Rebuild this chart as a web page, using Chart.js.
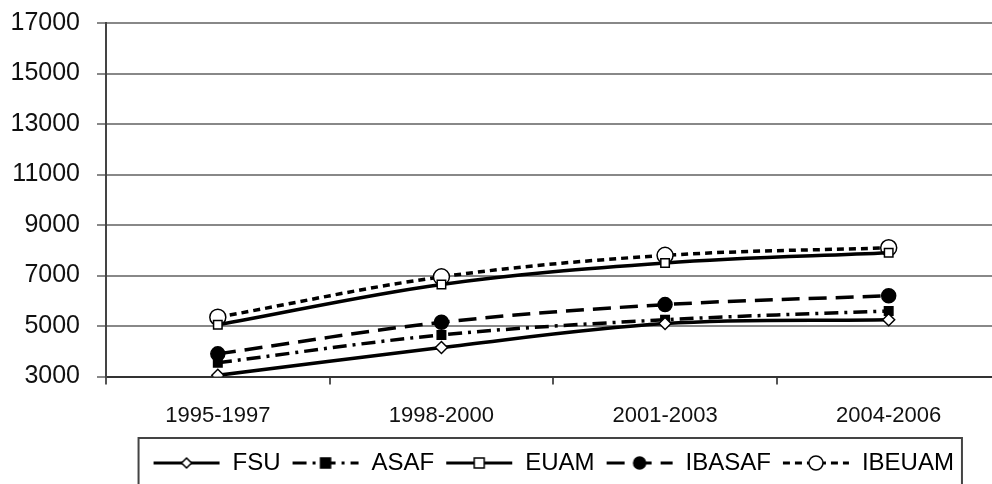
<!DOCTYPE html>
<html>
<head>
<meta charset="utf-8">
<script src="https://cdn.jsdelivr.net/npm/chart.js@4.4.1/dist/chart.umd.min.js"></script>
<style>
    html, body { margin: 0; padding: 0; background: #fff; overflow: hidden; width: 992px; height: 484px; }
    #wrap { position: relative; top: -9px; width: 1010px; height: 494px; }
</style>
</head>
<body>
<div id="wrap"><canvas id="chart"></canvas></div>
<script>
(function () {

    const periods = ["1995-1997", "1998-2000", "2001-2003", "2004-2006"];
    const fsu = [3050, 4150, 5100, 5250];
    const asaf = [3550, 4650, 5250, 5600];
    const euam = [5050, 6650, 7500, 7900];
    const ibasaf = [3900, 5150, 5850, 6200];
    const ibeuam = [5350, 6950, 7800, 8100];
    const yTicks = [3000, 5000, 7000, 9000, 11000, 13000, 15000, 17000];

    const fontFamily = "'Liberation Sans', Arial, sans-serif";

    // line samples for the legend (line + marker, like the excel legend)
    function makeSample(dash, style, fill, radius) {
        const c = document.createElement("canvas");
        c.width = 68;
        c.height = 20;
        const ctx = c.getContext("2d");
        const cx = 34;
        ctx.strokeStyle = "#000";
        ctx.lineWidth = 3;
        ctx.setLineDash(dash);
        ctx.beginPath();
        ctx.moveTo(1, 10);
        ctx.lineTo(67, 10);
        ctx.stroke();
        ctx.setLineDash([]);
        ctx.fillStyle = fill;
        ctx.beginPath();
        if (style === "circle") {
            ctx.arc(cx, 10, radius, 0, Math.PI * 2);
        } else if (style === "rect") {
            ctx.rect(cx - radius, 10 - radius, radius * 2, radius * 2);
        } else {
            ctx.moveTo(cx, 10 - radius);
            ctx.lineTo(cx + radius, 10);
            ctx.lineTo(cx, 10 + radius);
            ctx.lineTo(cx - radius, 10);
            ctx.closePath();
        }
        ctx.fill();
        ctx.lineWidth = 1.5;
        ctx.stroke();
        return c;
    }

    function makeDataset(label, values, dash, style, fill, radius) {
        return {
            label: label,
            data: values,
            borderColor: "#000",
            borderWidth: 3.5,
            borderDash: dash,
            tension: 0.35,
            fill: false,
            pointStyle: style,
            pointRadius: radius,
            pointHoverRadius: radius,
            pointBackgroundColor: fill,
            pointBorderColor: "#000",
            pointBorderWidth: 1.5,
            sample: makeSample(dash, style, fill, radius - 1)
        };
    }

    const datasets = [
        makeDataset("FSU", fsu, [], "rectRot", "#fff", 6),
        makeDataset("ASAF", asaf, [14, 6, 3, 6], "rect", "#000", 6),
        makeDataset("EUAM", euam, [], "rect", "#fff", 6),
        makeDataset("IBASAF", ibasaf, [18, 9], "circle", "#000", 7),
        makeDataset("IBEUAM", ibeuam, [7, 5], "circle", "#fff", 8)
    ];

    const legendBorder = {
        id: "legendBorder",
        afterDraw(chart) {
            const boxes = chart.legend.legendHitBoxes;
            if (!boxes || !boxes.length) return;
            const left = Math.min(...boxes.map(b => b.left)) - 14;
            const right = Math.max(...boxes.map(b => b.left + b.width)) + 8;
            const top = boxes[0].top - 13;
            const ctx = chart.ctx;
            ctx.save();
            ctx.strokeStyle = "#444";
            ctx.lineWidth = 2;
            ctx.strokeRect(left, top, right - left, 200);
            ctx.restore();
        }
    };

    new Chart(document.getElementById("chart"), {
        type: "line",
        data: {
            labels: periods,
            datasets: datasets
        },
        options: {
            responsive: true,
            maintainAspectRatio: false,
            animation: false,
            layout: { padding: { top: 3, right: 0, left: 0, bottom: 0 } },
            scales: {
                x: {
                    offset: true,
                    afterFit: axis => {
                        axis.height -= 7;
                    },
                    grid: {
                        offset: true,
                        drawOnChartArea: false,
                        tickLength: 8,
                        color: "#555",
                        lineWidth: 2
                    },
                    border: { color: "#333", width: 2 },
                    ticks: {
                        color: "#111",
                        padding: 18,
                        maxRotation: 0,
                        font: { family: fontFamily, size: 22 }
                    }
                },
                y: {
                    min: 3000,
                    max: 17000,
                    afterBuildTicks: axis => {
                        axis.ticks = yTicks.map(v => ({ value: v }));
                    },
                    afterFit: axis => {
                        axis.width = 106;
                    },
                    grid: {
                        color: "#888",
                        lineWidth: 2,
                        tickLength: 9
                    },
                    border: { color: "#444", width: 2 },
                    ticks: {
                        color: "#111",
                        padding: 17,
                        callback: value => String(value),
                        font: { family: fontFamily, size: 25 }
                    }
                }
            },
            plugins: {
                title: { display: false },
                tooltip: { enabled: false },
                legend: {
                    position: "bottom",
                    fullSize: false,
                    labels: {
                        usePointStyle: true,
                        pointStyleWidth: 68,
                        boxHeight: 20,
                        padding: 11,
                        color: "#111",
                        font: { family: fontFamily, size: 24 },
                        generateLabels: chart => chart.data.datasets.map((ds, i) => ({
                            text: ds.label,
                            pointStyle: ds.sample,
                            datasetIndex: i,
                            lineWidth: 0,
                            strokeStyle: "transparent",
                            fillStyle: "transparent",
                            hidden: false
                        }))
                    }
                }
            }
        },
        plugins: [legendBorder]
    });
})();
</script>
</body>
</html>
